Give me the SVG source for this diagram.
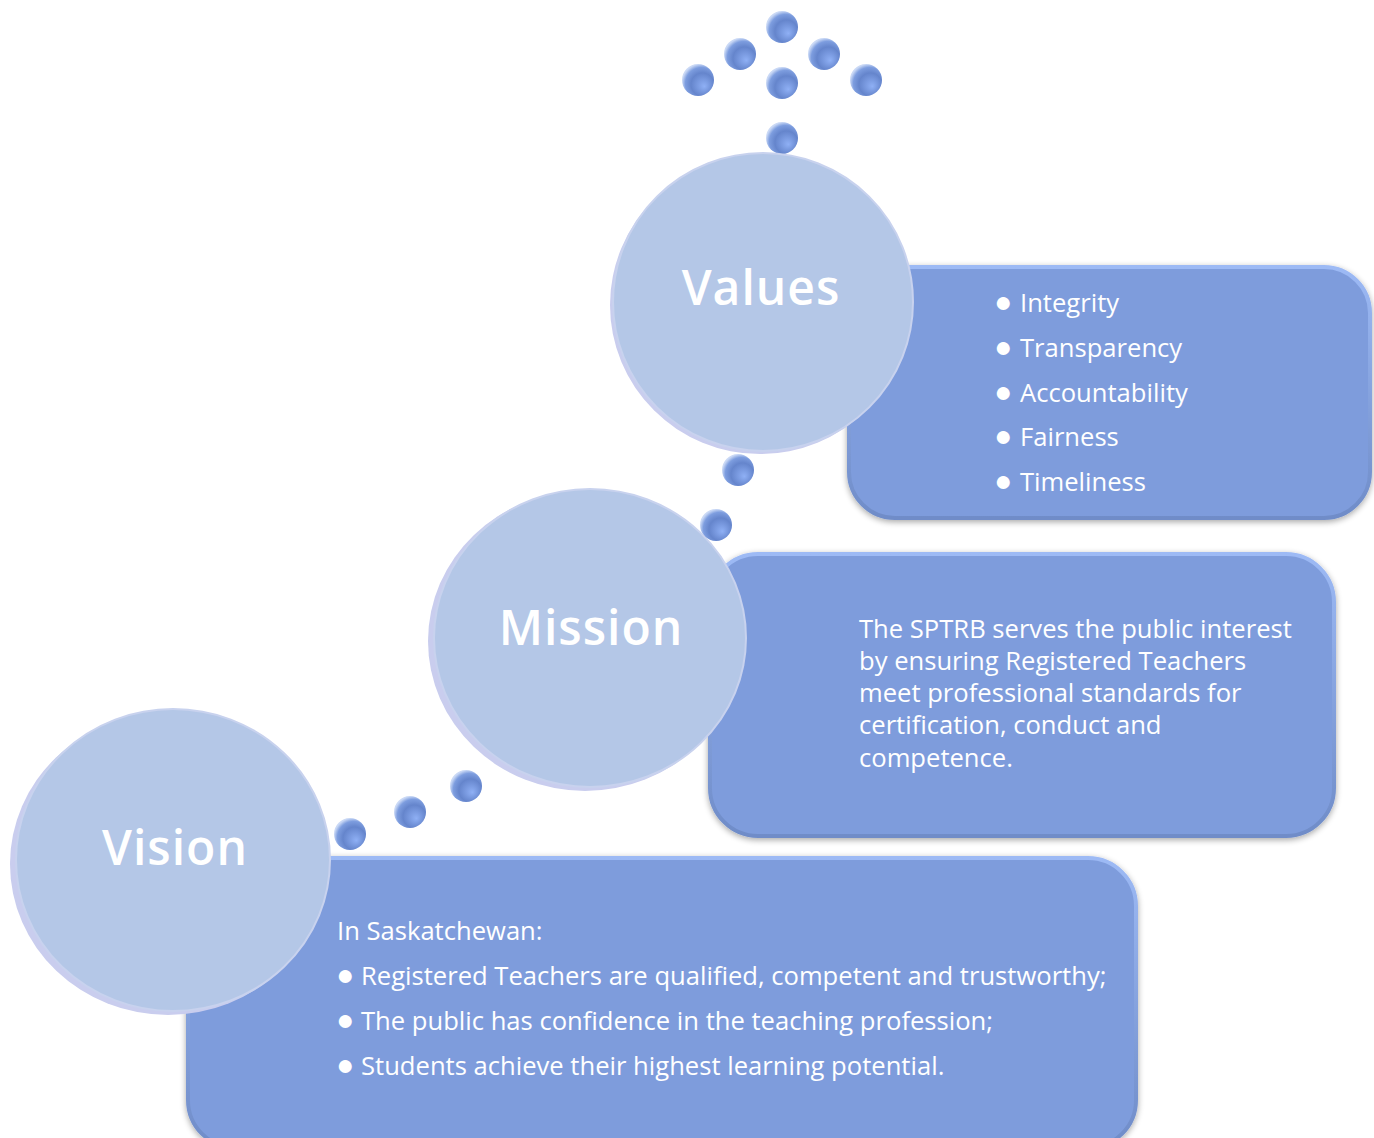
<svg xmlns="http://www.w3.org/2000/svg" width="1374" height="1138" viewBox="0 0 1374 1138">
<defs>
<radialGradient id="dotg" cx="0.6" cy="0.6" r="0.6" fx="0.7" fy="0.7">
<stop offset="0" stop-color="#8fb0f5"/>
<stop offset="0.6" stop-color="#6585cc"/>
<stop offset="0.85" stop-color="#7d9ddf"/>
<stop offset="1" stop-color="#c9d8f5"/>
</radialGradient>
<filter id="soft" x="-10%" y="-10%" width="120%" height="120%">
<feGaussianBlur in="SourceAlpha" stdDeviation="3"/>
<feOffset dx="0" dy="2"/>
<feComponentTransfer><feFuncA type="linear" slope="0.35"/></feComponentTransfer>
<feMerge><feMergeNode/><feMergeNode in="SourceGraphic"/></feMerge>
</filter>
<linearGradient id="boxedge" x1="0" y1="0" x2="0" y2="1">
<stop offset="0" stop-color="#9dbaf5"/>
<stop offset="1" stop-color="#6f8cc8"/>
</linearGradient>
</defs>
<style>
.box{fill:#7e9cdc;stroke:url(#boxedge);stroke-width:4;filter:url(#soft)}
.circ{fill:#b4c7e7;stroke:#c8d2ee;stroke-width:2}
.circsh{fill:#c9cdee}
.dot{fill:url(#dotg)}
.head{font-family:"Open Sans","Noto Sans",sans-serif;font-weight:600;fill:#ffffff;letter-spacing:1px}
.body{font-family:"Open Sans","Noto Sans",sans-serif;fill:#ffffff;font-size:25.6px}
.bul{font-size:30px}
</style>
<rect width="1374" height="1138" fill="#ffffff"/>
<g id="connectors">
<circle class="dot" cx="782" cy="27" r="16"/>
<circle class="dot" cx="740" cy="54" r="16"/>
<circle class="dot" cx="824" cy="54" r="16"/>
<circle class="dot" cx="698" cy="80" r="16"/>
<circle class="dot" cx="866" cy="80" r="16"/>
<circle class="dot" cx="782" cy="83" r="16"/>
<circle class="dot" cx="782" cy="138" r="16"/>
<circle class="dot" cx="738" cy="470" r="16"/>
<circle class="dot" cx="716" cy="525" r="16"/>
<circle class="dot" cx="466" cy="786" r="16"/>
<circle class="dot" cx="410" cy="812" r="16"/>
<circle class="dot" cx="350" cy="834" r="16"/>
</g>
<g id="vision-box">
<rect class="box" x="188" y="858" width="948" height="290" rx="48"/>
<text class="body" x="337" y="940">In Saskatchewan:</text>
<text class="body" y="985"><tspan class="bul" x="336">●</tspan><tspan x="361">Registered Teachers are qualified, competent and trustworthy;</tspan></text>
<text class="body" y="1030"><tspan class="bul" x="336">●</tspan><tspan x="361">The public has confidence in the teaching profession;</tspan></text>
<text class="body" y="1075"><tspan class="bul" x="336">●</tspan><tspan x="361">Students achieve their highest learning potential.</tspan></text>
</g>
<g id="mission-box">
<rect class="box" x="710" y="554" width="624" height="282" rx="48"/>
<text class="body" x="859" y="638">The SPTRB serves the public interest</text>
<text class="body" x="859" y="670">by ensuring Registered Teachers</text>
<text class="body" x="859" y="702">meet professional standards for</text>
<text class="body" x="859" y="734">certification, conduct and</text>
<text class="body" x="859" y="767">competence.</text>
</g>
<g id="values-box">
<rect class="box" x="849" y="267" width="521" height="251" rx="46"/>
<text class="body" y="312"><tspan class="bul" x="994">●</tspan><tspan x="1020">Integrity</tspan></text>
<text class="body" y="357"><tspan class="bul" x="994">●</tspan><tspan x="1020">Transparency</tspan></text>
<text class="body" y="402"><tspan class="bul" x="994">●</tspan><tspan x="1020">Accountability</tspan></text>
<text class="body" y="446"><tspan class="bul" x="994">●</tspan><tspan x="1020">Fairness</tspan></text>
<text class="body" y="491"><tspan class="bul" x="994">●</tspan><tspan x="1020">Timeliness</tspan></text>
</g>
<g id="vision">
<ellipse class="circsh" cx="168" cy="864" rx="158" ry="151"/>
<ellipse class="circ" cx="173" cy="860" rx="157" ry="151"/>
<text class="head" x="175" y="865" font-size="48" text-anchor="middle">Vision</text>
</g>
<g id="mission">
<ellipse class="circsh" cx="585" cy="641" rx="157" ry="150"/>
<ellipse class="circ" cx="590" cy="638" rx="156" ry="149"/>
<text class="head" x="591" y="645" font-size="48" text-anchor="middle">Mission</text>
</g>
<g id="values">
<ellipse class="circsh" cx="760" cy="305" rx="150" ry="149"/>
<ellipse class="circ" cx="763" cy="302" rx="150" ry="149"/>
<text class="head" x="761" y="305" font-size="48" text-anchor="middle">Values</text>
</g>
</svg>
